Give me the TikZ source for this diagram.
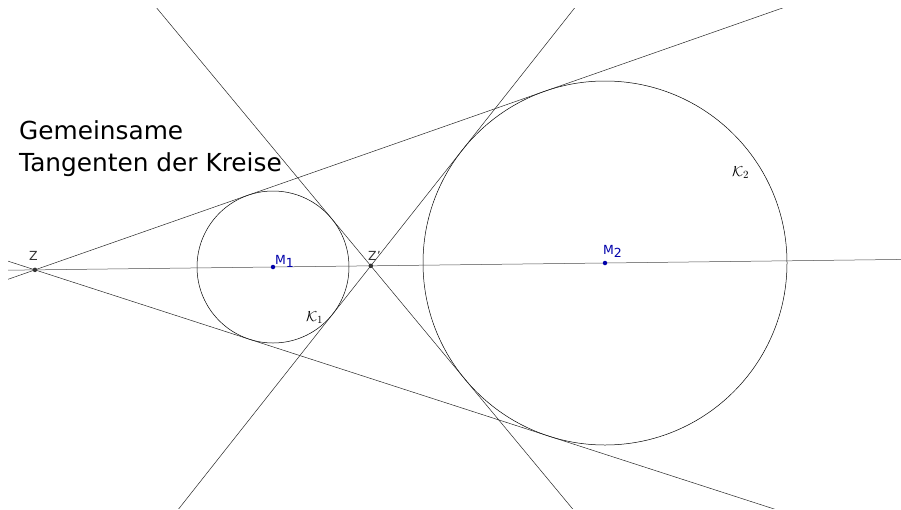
\documentclass[tikz,border=0pt]{standalone}
\usepackage{fontspec}
\setmainfont{DejaVu Sans}
\usepackage{amsmath}
\usetikzlibrary{calc}
\definecolor{ptblue}{RGB}{0,0,170}
\tikzset{
  kreis/.style={circle,draw,line width=0.5pt,inner sep=0pt,outer sep=0pt,minimum size=#1},
  gerade/.style={line width=0.5pt,black!85},
  punkt/.style={circle,fill=#1,inner sep=0pt,minimum size=4.5pt},
  lbl/.style={font=\fontsize{12.5}{14}\selectfont,text=#1,inner sep=0pt},
  klbl/.style={inner sep=0pt,anchor=base west,font=\fontsize{15}{17}\selectfont},
  titel/.style={anchor=base west,inner sep=0pt,font=\fontsize{24.8}{30}\selectfont},
}
\begin{document}
\begin{tikzpicture}[x=1pt,y=-1pt]
\useasboundingbox (0,0) rectangle (901,509);
\node[kreis=152pt] (K1) at (273,267) {};
\node[kreis=364pt] (K2) at (605,263) {};
\coordinate (M1) at (273,267);
\coordinate (M2) at (605,263);
\coordinate (Z) at ($(M1)!-0.71698!(M2)$);
\coordinate (Zs) at ($(M1)!0.29457!(M2)$);
\coordinate (T1) at (tangent cs:node=K2,point={(Z)},solution=1);
\coordinate (T2) at (tangent cs:node=K2,point={(Z)},solution=2);
\coordinate (T3) at (tangent cs:node=K2,point={(Zs)},solution=1);
\coordinate (T4) at (tangent cs:node=K2,point={(Zs)},solution=2);
\begin{scope}
\clip (8,8) rectangle (901,508);
\draw[gerade] ($(Z)!-0.2!(T1)$) -- ($(Z)!3!(T1)$);
\draw[gerade] ($(Z)!-0.2!(T2)$) -- ($(Z)!3!(T2)$);
\draw[gerade] ($(Zs)!-5!(T3)$) -- ($(Zs)!5!(T3)$);
\draw[gerade] ($(Zs)!-5!(T4)$) -- ($(Zs)!5!(T4)$);
\draw[gerade,black!70] ($(Z)!-0.2!(M2)$) -- ($(Z)!2!(M2)$);
\end{scope}
\node[punkt=black!80] (PZ) at (Z) {};
\node[punkt=black!80] (PZs) at (Zs) {};
\node[punkt=ptblue] (PM1) at (M1) {};
\node[punkt=ptblue] (PM2) at (M2) {};
\node[lbl=black!80,anchor=base west] (LZ) at (29,260) {Z};
\node[lbl=black!80,anchor=base west] (LZs) at (368,260) {Z'};
\node[lbl=ptblue,anchor=base west] (LM1) at (275,264) {M\raisebox{-0.5ex}{1}};
\node[lbl=ptblue,anchor=base west] (LM2) at (603,254) {M\raisebox{-0.5ex}{2}};
\node[klbl] (LK1) at (306,321) {$\mathcal{K}_1$};
\node[klbl] (LK2) at (732,176) {$\mathcal{K}_2$};
\node[titel] (title1) at (19,139) {Gemeinsame};
\node[titel] (title2) at (19,171) {Tangenten der Kreise};
\end{tikzpicture}
\end{document}
